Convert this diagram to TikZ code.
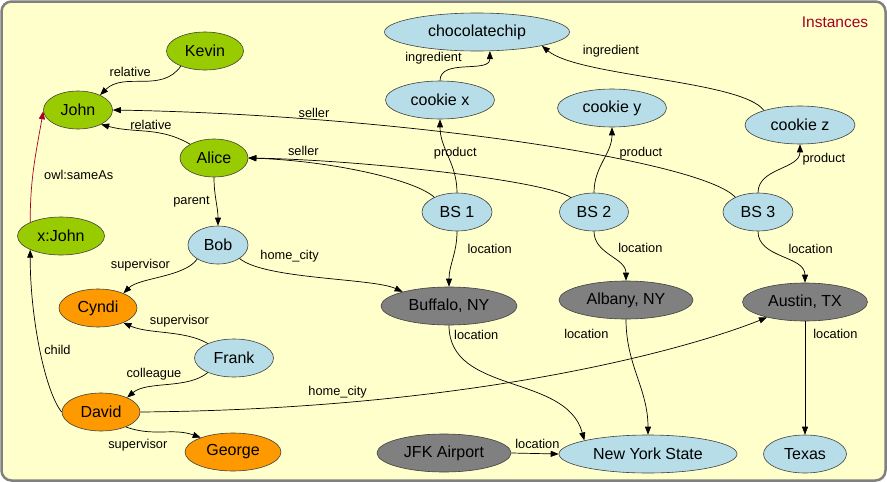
\documentclass[tikz,border=0pt]{standalone}
\usepackage{fontspec}
\setmainfont{Liberation Sans}
\usetikzlibrary{shapes.geometric,arrows.meta}
\definecolor{bgyellow}{HTML}{FFFFCC}
\definecolor{kingreen}{HTML}{99CC00}
\definecolor{itemblue}{HTML}{B7DEE8}
\definecolor{stafforange}{HTML}{FF9900}
\definecolor{placegrey}{HTML}{808080}
\definecolor{owlred}{HTML}{A50021}

\begin{document}
\begin{tikzpicture}
      [ x=1pt, y=1pt, >={Triangle[length=8pt,width=6pt]},
        inst/.style={ellipse, draw=black!75, line width=.6pt, minimum height=38pt,
                     inner sep=0pt, font=\fontsize{16}{19}\selectfont},
        kin/.style={inst, fill=kingreen},
        item/.style={inst, fill=itemblue},
        staff/.style={inst, fill=stafforange},
        place/.style={inst, fill=placegrey},
        lbl/.style={font=\fontsize{12.8}{15}\selectfont, inner sep=1pt}
      ]
      \path[use as bounding box] (0,0) rectangle (887,-482);
      \draw[placegrey, line width=2.5pt, fill=bgyellow, rounded corners=10pt]
            (1.5,-1.5) rectangle (885.5,-480.5);
      \node[text=owlred, font=\fontsize{15.5}{18}\selectfont] (title) at (835,-22) {Instances};

      \node[kin, minimum width=77pt]    (kevin)   at (205,-51)  {Kevin};
      \node[kin, minimum width=69pt]    (john)    at (78,-110)  {John};
      \node[kin, minimum width=68pt]    (alice)   at (214,-158) {Alice};
      \node[kin, minimum width=87pt]    (xjohn)   at (61,-236)  {x:John};
      \node[item, minimum width=60pt]   (bob)     at (218,-245) {Bob};
      \node[item, minimum width=185pt]  (choc)    at (477,-32)  {chocolatechip};
      \node[item, minimum width=109pt]  (cookiex) at (440,-100) {cookie x};
      \node[item, minimum width=109pt]  (cookiey) at (612,-108) {cookie y};
      \node[item, minimum width=110pt]  (cookiez) at (800,-125) {cookie z};
      \node[item, minimum width=70pt]   (bs1)     at (457,-212) {BS 1};
      \node[item, minimum width=69pt]   (bs2)     at (594,-212) {BS 2};
      \node[item, minimum width=70pt]   (bs3)     at (758,-212) {BS 3};
      \node[place, minimum width=136pt] (buffalo) at (449,-306) {Buffalo, NY};
      \node[place, minimum width=134pt] (albany)  at (626,-300) {Albany, NY};
      \node[place, minimum width=125pt] (austin)  at (805,-302) {Austin, TX};
      \node[staff, minimum width=78pt]  (cyndi)   at (98,-308)  {Cyndi};
      \node[item, minimum width=79pt]   (frank)   at (234,-358) {Frank};
      \node[staff, minimum width=78pt]  (david)   at (101,-412) {David};
      \node[staff, minimum width=96pt]  (george)  at (233,-452) {George};
      \node[place, minimum width=134pt] (jfk)     at (444,-453) {JFK Airport};
      \node[item, minimum width=178pt]  (nys)     at (648,-454) {New York State};
      \node[item, minimum width=83pt]   (texas)   at (805,-454) {Texas};

      % family and staff
      \path[->, line width=.7pt]
            (kevin.212) edge [out=235,in=45]  node[lbl,above=4pt,xshift=-12pt] {relative} (john.34)
            (alice.150) edge [out=150,in=-15] node[lbl,above,xshift=4pt]   {relative} (john.328)
            (alice.south) edge [out=-90,in=90] node[lbl,left=5pt]          {parent}   (bob.north)
            (bob.214)   edge [out=235,in=45,looseness=.7]  node[lbl,above=5pt,xshift=-21pt] {supervisor} (cyndi.30)
            (bob.328)   edge [out=-40,in=155,looseness=.5] node[lbl,pos=.35,above=10pt] {home\_city} (buffalo.163)
            (frank.151) edge [out=150,in=-25,looseness=.8] node[lbl,pos=.35,above=6pt] {supervisor} (cyndi.330)
            (frank.209) edge [out=220,in=40,looseness=.8]  node[lbl,pos=.65,above=6pt] {colleague}  (david.29)
            (david.west) edge [out=130,in=-90,out distance=25pt,in distance=70pt]
                               node[lbl,right=3pt] {child} (xjohn.204)
            (david.329) edge [out=-20,in=160] node[lbl,pos=.15,below=8pt] {supervisor} (george.156)
            (david.east) edge [out=.5,in=202,out distance=340pt,in distance=79pt]
                               node[lbl,pos=.21,above=4pt] {home\_city} (austin.202);
      \path[->, line width=.7pt, owlred]
            (xjohn.156) edge [out=90,in=-100] node[lbl,pos=.42,right=10pt,black] {owl:sameAs} (john.182);

      % shops, cookies and places
      \path[->, line width=.7pt]
            (bs1.147) edge [out=137,in=-2,out distance=25pt,in distance=85pt]
                            node[lbl,pos=.78,above=5pt] {seller} (alice.east)
            (bs2.148) edge [out=146,in=-1,out distance=30pt,in distance=117pt] (alice.east)
            (bs3.147) edge [out=132,in=-1,out distance=49pt,in distance=287pt]
                            node[lbl,pos=.765,above=1pt] {seller} (john.east)
            (bs1.north) edge [out=90,in=-90] node[lbl,pos=.55,xshift=8pt] {product} (cookiex.south)
            (bs2.north) edge [out=90,in=-90] node[lbl,pos=.62,right=12pt] {product} (cookiey.south)
            (bs3.north) edge [out=90,in=-90] node[lbl,pos=.65,right=13pt,yshift=4pt] {product} (cookiez.south)
            (cookiex.north) edge [out=90,in=-90] node[lbl,above left,xshift=-2pt] {ingredient} (choc.304)
            (cookiez.158) edge [out=126,in=-40,out distance=37pt,in distance=48pt]
                            node[lbl,pos=.7,above=9pt,xshift=9pt] {ingredient} (choc.348)
            (bs1.south) edge [out=-90,in=90] node[lbl,pos=.3,right=11pt] {location} (buffalo.north)
            (bs2.south) edge [out=-90,in=90] node[lbl,pos=.3,right=16pt] {location} (albany.north)
            (bs3.south) edge [out=-90,in=90] node[lbl,pos=.3,right=19pt] {location} (austin.north)
            (buffalo.south) edge [out=-90,in=105] node[lbl,pos=.05,right=3pt] {location} (nys.168)
            (albany.south) edge [out=-90,in=90] node[lbl,pos=.11,left=17pt] {location} (nys.north)
            (austin.south) edge node[lbl,pos=.11,right=7pt] {location} (texas.north)
            (jfk.east) edge node[lbl,pos=.55,above=4pt] {location} (nys.west);
\end{tikzpicture}
\end{document}
